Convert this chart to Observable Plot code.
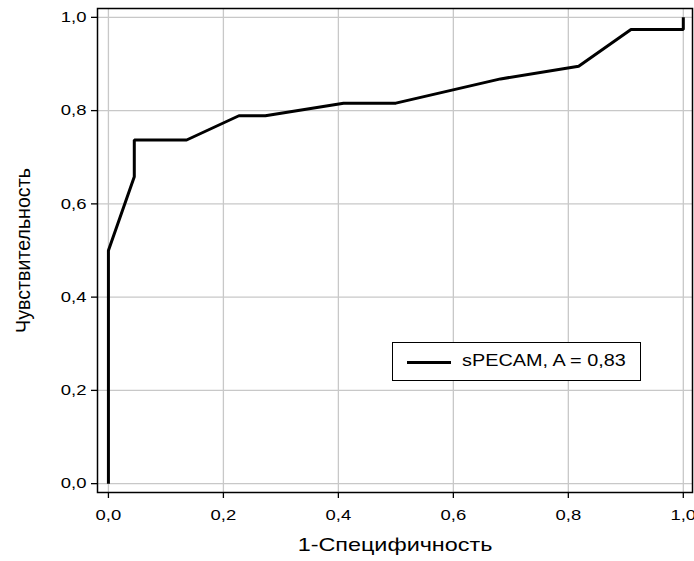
<!DOCTYPE html>
<html>
<head>
<meta charset="utf-8">
<script src="https://cdn.jsdelivr.net/npm/d3@7"></script>
<script src="https://cdn.jsdelivr.net/npm/@observablehq/plot@0.6"></script>
<style>
  html, body { margin: 0; padding: 0; background: #fff; }
  #wrap { position: relative; width: 694px; height: 561px; }
  #legend {
    position: absolute; left: 392px; top: 342px; width: 249px; height: 39px;
    border: 1.3px solid #000; background: #fff; box-sizing: border-box;
    font-family: "Liberation Sans", Arial, sans-serif; font-size: 16px;
  }
  #legend .sw { position: absolute; left: 14px; top: 18px; width: 44px; height: 0; border-top: 3px solid #000; }
  #legend span { position: absolute; left: 69px; top: 9px; display: inline-block; white-space: nowrap; transform: scaleX(1.24); transform-origin: left center; }
</style>
</head>
<body>
<div id="wrap"></div>
<script>
const fpr = [0, 0, 0.045, 0.045, 0.136, 0.227, 0.273, 0.409, 0.5, 0.682, 0.818, 0.909, 1.0, 1.0];
const tpr = [0, 0.5, 0.658, 0.737, 0.737, 0.789, 0.789, 0.816, 0.816, 0.868, 0.895, 0.974, 0.974, 1.0];
const ticks = [0, 0.2, 0.4, 0.6, 0.8, 1.0];
const seriesName = "sPECAM, A = 0,83";
const xTitle = "1-Специфичность";
const yTitle = "Чувствительность";

const data = fpr.map((x, i) => ({x, y: tpr[i]}));
const fmt = d => d.toFixed(1).replace(".", ",");
const STRETCH = 1.23;

const chart = Plot.plot({
  width: 694,
  height: 561,
  marginLeft: 97,
  marginRight: 2,
  marginTop: 8,
  marginBottom: 69,
  style: {fontFamily: "'Liberation Sans', Arial, sans-serif", fontSize: "15px", color: "#000", background: "#fff"},
  x: {domain: [-0.019, 1.016], ticks, tickFormat: fmt, label: null},
  y: {domain: [-0.019, 1.019], ticks, tickFormat: fmt, label: null},
  marks: [
    Plot.gridX(ticks, {stroke: "#c8c8c8", strokeOpacity: 1, strokeWidth: 1.3}),
    Plot.gridY(ticks, {stroke: "#c8c8c8", strokeOpacity: 1, strokeWidth: 1.3}),
    Plot.axisX(ticks, {tickSize: 6, tickPadding: 11, tickFormat: fmt, fontSize: 15, stroke: "#000", strokeWidth: 1.3, label: null}),
    Plot.axisY(ticks, {tickSize: 6, tickPadding: 5, tickFormat: fmt, fontSize: 15, stroke: "#000", strokeWidth: 1.3, label: null}),
    Plot.line(data, {x: "x", y: "y", stroke: "#000", strokeWidth: 3, strokeLinejoin: "miter", strokeLinecap: "butt"}),
    Plot.frame({stroke: "#000", strokeWidth: 1.5}),
    Plot.text([xTitle], {frameAnchor: "bottom", dy: 58, fontSize: 19}),
    Plot.text([yTitle], {frameAnchor: "left", textAnchor: "middle", dx: -74, rotate: -90, fontSize: 21})
  ]
});
chart.style.overflow = "visible";
const wrap = document.getElementById("wrap");
wrap.appendChild(chart);

// widen glyphs horizontally to match the reference's wide lettering
d3.select(chart).selectAll("text").each(function() {
  const t = this.getAttribute("transform") || "";
  const len = this.getComputedTextLength();
  if (!(len > 0)) return;
  const k = t.includes("rotate") ? 1 / 1.07 : STRETCH;
  this.setAttribute("textLength", (len * k).toFixed(2));
  this.setAttribute("lengthAdjust", "spacingAndGlyphs");
});

const lg = document.createElement("div");
lg.id = "legend";
lg.innerHTML = `<div class="sw"></div><span></span>`;
lg.querySelector("span").textContent = seriesName;
wrap.appendChild(lg);
</script>
</body>
</html>
